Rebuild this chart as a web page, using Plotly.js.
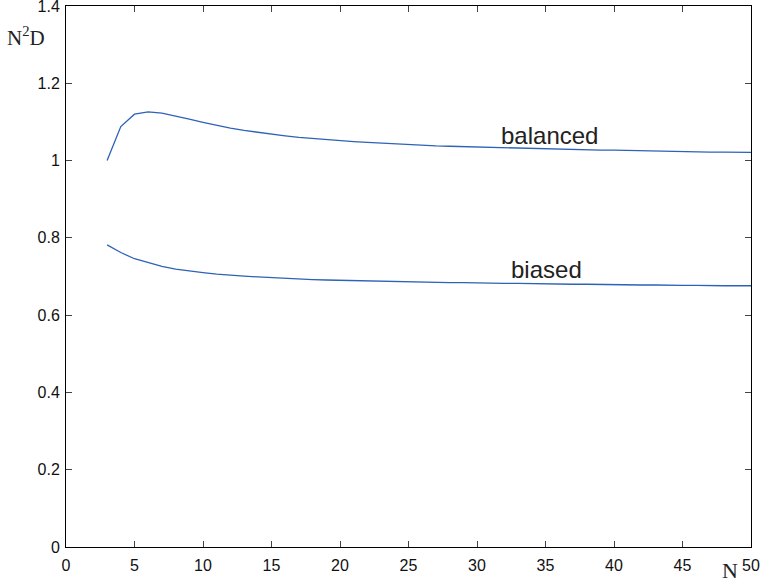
<!DOCTYPE html>
<html>
<head>
<meta charset="utf-8">
<script src="https://cdn.plot.ly/plotly-3.0.1.min.js"></script>
<style>html,body{margin:0;padding:0;background:#fff}</style>
</head>
<body>
<div id="chart" style="width:762px;height:583px"></div>
<script>
// Number of elements N
var N = [3,4,5,6,7,8,9,10,11,12,13,14,15,16,17,18,19,20,21,22,23,24,25,26,
         27,28,29,30,31,32,33,34,35,36,37,38,39,40,41,42,43,44,45,46,47,48,49,50];

// Normalised N^2 D for the balanced scheme
var balanced = [1.000,1.088,1.120,1.126,1.123,1.116,1.107,1.099,1.091,1.084,1.078,1.073,
                1.068,1.064,1.060,1.057,1.054,1.051,1.049,1.047,1.045,1.043,1.041,1.040,
                1.038,1.037,1.036,1.035,1.034,1.033,1.032,1.031,1.030,1.029,1.029,1.028,
                1.027,1.027,1.026,1.025,1.025,1.024,1.024,1.023,1.022,1.022,1.021,1.021];

// Normalised N^2 D for the biased scheme
var biased = [0.782,0.762,0.746,0.735,0.726,0.719,0.714,0.710,0.706,0.703,0.701,0.699,
              0.697,0.695,0.694,0.692,0.691,0.690,0.689,0.688,0.687,0.687,0.686,0.685,
              0.685,0.684,0.684,0.683,0.683,0.682,0.682,0.681,0.681,0.680,0.680,0.680,
              0.679,0.679,0.678,0.678,0.678,0.677,0.677,0.677,0.676,0.676,0.676,0.676];

var xTicks = [0,5,10,15,20,25,30,35,40,45,50];
var yTicks = [0,0.2,0.4,0.6,0.8,1,1.2,1.4];
var yTickText = ['0','0.2','0.4','0.6','0.8','1','1.2','1.4'];

var lineColor = '#2d62b6';
var tickFont = {family: 'Liberation Sans, Arial, sans-serif', size: 16, color: '#111'};

var traces = [
  {x: N, y: balanced, mode: 'lines', line: {color: lineColor, width: 1.3}, name: 'balanced'},
  {x: N, y: biased, mode: 'lines', line: {color: lineColor, width: 1.3}, name: 'biased'}
];

var axisCommon = {
  showgrid: false, zeroline: false,
  showline: true, linecolor: '#000', linewidth: 1,
  mirror: 'ticks', ticks: 'inside', ticklen: 6, tickcolor: '#444', tickwidth: 1,
  tickfont: tickFont, ticklabeloverflow: 'allow'
};

var layout = {
  width: 762, height: 583,
  margin: {l: 66, r: 11, t: 6, b: 36},
  paper_bgcolor: '#fff', plot_bgcolor: '#fff',
  showlegend: false,
  xaxis: Object.assign({}, axisCommon, {range: [0, 50], tickvals: xTicks, ticklabelstandoff: 4}),
  yaxis: Object.assign({}, axisCommon, {range: [0, 1.4], tickvals: yTicks, ticktext: yTickText, ticklabelstandoff: 2}),
  annotations: [
    {text: 'balanced', xref: 'x', yref: 'y', x: 31.6, y: 1.066, xanchor: 'left', yanchor: 'middle',
     showarrow: false, font: {family: 'Liberation Sans, Arial, sans-serif', size: 24, color: '#222'}},
    {text: 'biased', xref: 'x', yref: 'y', x: 32.3, y: 0.717, xanchor: 'left', yanchor: 'middle',
     showarrow: false, font: {family: 'Liberation Sans, Arial, sans-serif', size: 24, color: '#222'}},
    {text: 'N<sup>2</sup>D', xref: 'paper', yref: 'paper', x: -0.089, y: 0.943, xanchor: 'left', yanchor: 'middle',
     showarrow: false, font: {family: 'Liberation Serif, Times New Roman, serif', size: 21, color: '#222'}},
    {text: 'N', xref: 'paper', yref: 'paper', x: 0.970, y: -0.043, xanchor: 'center', yanchor: 'middle',
     showarrow: false, font: {family: 'Liberation Serif, Times New Roman, serif', size: 22, color: '#222'}}
  ]
};

Plotly.newPlot('chart', traces, layout, {staticPlot: true, displayModeBar: false});
</script>
</body>
</html>
